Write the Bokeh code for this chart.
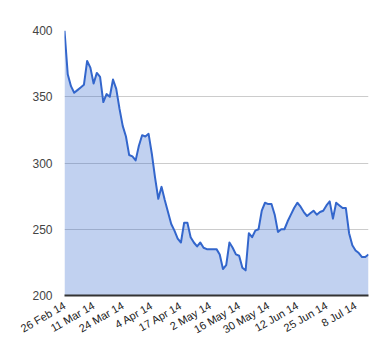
import math
from bokeh.plotting import figure
from bokeh.models import Range1d, FixedTicker, ColumnDataSource
from bokeh.embed import file_html
from bokeh.resources import INLINE

# UK trading days, 26 Feb 2014 - 14 Jul 2014
months = [
    ("Feb", [26, 27, 28]),
    ("Mar", [3, 4, 5, 6, 7, 10, 11, 12, 13, 14, 17, 18, 19, 20, 21, 24, 25, 26, 27, 28, 31]),
    ("Apr", [1, 2, 3, 4, 7, 8, 9, 10, 11, 14, 15, 16, 17, 22, 23, 24, 25, 28, 29, 30]),
    ("May", [1, 2, 6, 7, 8, 9, 12, 13, 14, 15, 16, 19, 20, 21, 22, 23, 27, 28, 29, 30]),
    ("Jun", [2, 3, 4, 5, 6, 9, 10, 11, 12, 13, 16, 17, 18, 19, 20, 23, 24, 25, 26, 27, 30]),
    ("Jul", [1, 2, 3, 4, 7, 8, 9, 10, 11, 14]),
]
dates = [f"{d} {m} 14" for m, days in months for d in days]

values = [
    400, 367, 358, 353, 355, 357, 359, 377, 372, 360,
    368, 365, 346, 352, 350, 363, 356, 341, 328, 320,
    306, 305, 302, 313, 321, 320, 322, 307, 289, 273,
    282, 272, 263, 254, 249, 243, 240, 255, 255, 244,
    240, 237, 240, 236, 235, 235, 235, 235, 231, 220,
    223, 240, 236, 231, 230, 221, 219, 247, 244, 249,
    250, 264, 270, 269, 269, 261, 248, 250, 250, 256,
    261, 266, 270, 267, 263, 260, 262, 264, 261, 263,
    264, 268, 271, 258, 270, 268, 266, 266, 247, 238,
    234, 232, 229, 229, 231,
]

y_ticks = [200, 250, 300, 350, 400]
label_every = 9

idx = list(range(len(dates)))
src = ColumnDataSource(dict(x=idx, y=values, base=[y_ticks[0]] * len(idx)))

p = figure(width=372, height=352, output_backend="svg", toolbar_location=None,
           x_range=Range1d(0, len(dates) - 1), y_range=Range1d(y_ticks[0], y_ticks[-1]),
           min_border_left=64, min_border_right=4, min_border_top=30, min_border_bottom=57)
p.outline_line_color = None
p.background_fill_color = "white"

p.varea(x="x", y1="base", y2="y", source=src, fill_color="#3366cc", fill_alpha=0.3)
p.line(x="x", y="y", source=src, line_color="#3366cc", line_width=2, line_join="round")

# y axis
p.yaxis.ticker = FixedTicker(ticks=y_ticks)
p.yaxis.axis_line_color = None
p.yaxis.major_tick_line_color = None
p.yaxis.minor_tick_line_color = None
p.yaxis.major_tick_out = 0
p.yaxis.minor_tick_out = 0
p.yaxis.major_label_standoff = 12
p.yaxis.major_label_text_font = "Liberation Sans"
p.yaxis.major_label_text_font_size = "12px"
p.yaxis.major_label_text_color = "#444444"

# x axis
tick_pos = idx[::label_every]
p.xaxis.ticker = FixedTicker(ticks=tick_pos)
p.xaxis.major_label_overrides = {i: dates[i] for i in tick_pos}
p.xaxis.major_label_orientation = math.pi / 6
p.xaxis.axis_line_color = "#333333"
p.xaxis.axis_line_width = 2
p.xaxis.major_tick_line_color = None
p.xaxis.minor_tick_line_color = None
p.xaxis.major_tick_out = 0
p.xaxis.minor_tick_out = 0
p.xaxis.major_label_standoff = 9
p.xaxis.major_label_text_font = "Liberation Sans"
p.xaxis.major_label_text_font_size = "11px"
p.xaxis.major_label_text_color = "#222222"

p.xgrid.grid_line_color = None
p.ygrid.grid_line_color = "#cccccc"

open("out.html", "w").write(file_html(p, INLINE))
